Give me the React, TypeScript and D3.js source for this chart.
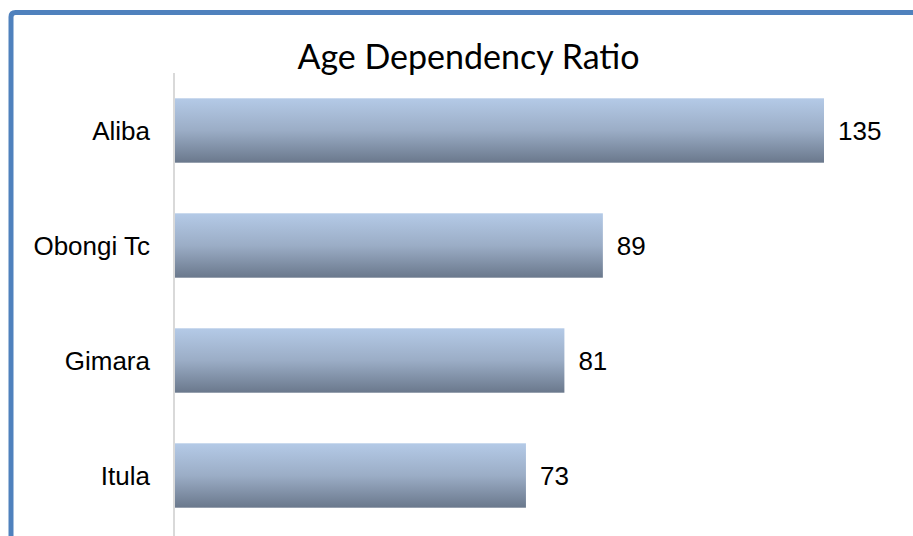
import React from "react";
import * as d3 from "d3";

const categories = ["Aliba", "Obongi Tc", "Gimara", "Itula"];
const values = [135, 89, 81, 73];
const title = "Age Dependency Ratio";

export default function App() {
  const W = 913, H = 536;
  const x0 = 175;
  const x = d3.scaleLinear().domain([0, 135]).range([x0, 824]);
  const y = d3.scaleBand<string>().domain(categories).range([73, 533]).paddingInner(0.44).paddingOuter(0.22);
  const bw = y.bandwidth();
  return (
    <svg width={W} height={H} style={{ position: "absolute", left: 0, top: 0, background: "#fff" }}>
      <defs>
        <linearGradient id="barGrad" x1="0" y1="0" x2="0" y2="1">
          <stop offset="0" stopColor="#b4cae7" />
          <stop offset="0.5" stopColor="#9badc6" />
          <stop offset="1" stopColor="#6a788c" />
        </linearGradient>
      </defs>
      <rect x={0} y={0} width={W} height={H} fill="#fff" />
      <path d="M 11 536 L 11 17 Q 11 12.5 15.5 12.5 L 913 12.5" fill="none" stroke="#4f81bd" strokeWidth={5} />
      <text x={468.5} y={69} textAnchor="middle" fontFamily="Lato, 'Open Sans', sans-serif" fontSize={34} fill="#000">{title}</text>
      {categories.map((c, i) => (
        <g key={c}>
          <rect x={x(0)} y={y(c)!} width={x(values[i]) - x(0)} height={bw} fill="url(#barGrad)" />
          <text x={150} y={y(c)! + bw / 2} dy="0.35em" textAnchor="end" fontFamily="'Liberation Sans', Arial, sans-serif" fontSize={26} fill="#000">{c}</text>
          <text x={x(values[i]) + 14} y={y(c)! + bw / 2} dy="0.35em" textAnchor="start" fontFamily="'Liberation Sans', Arial, sans-serif" fontSize={26} fill="#000">{values[i]}</text>
        </g>
      ))}
      <line x1={x0 - 1} x2={x0 - 1} y1={73} y2={536} stroke="#d9d9d9" strokeWidth={2} />
    </svg>
  );
}
